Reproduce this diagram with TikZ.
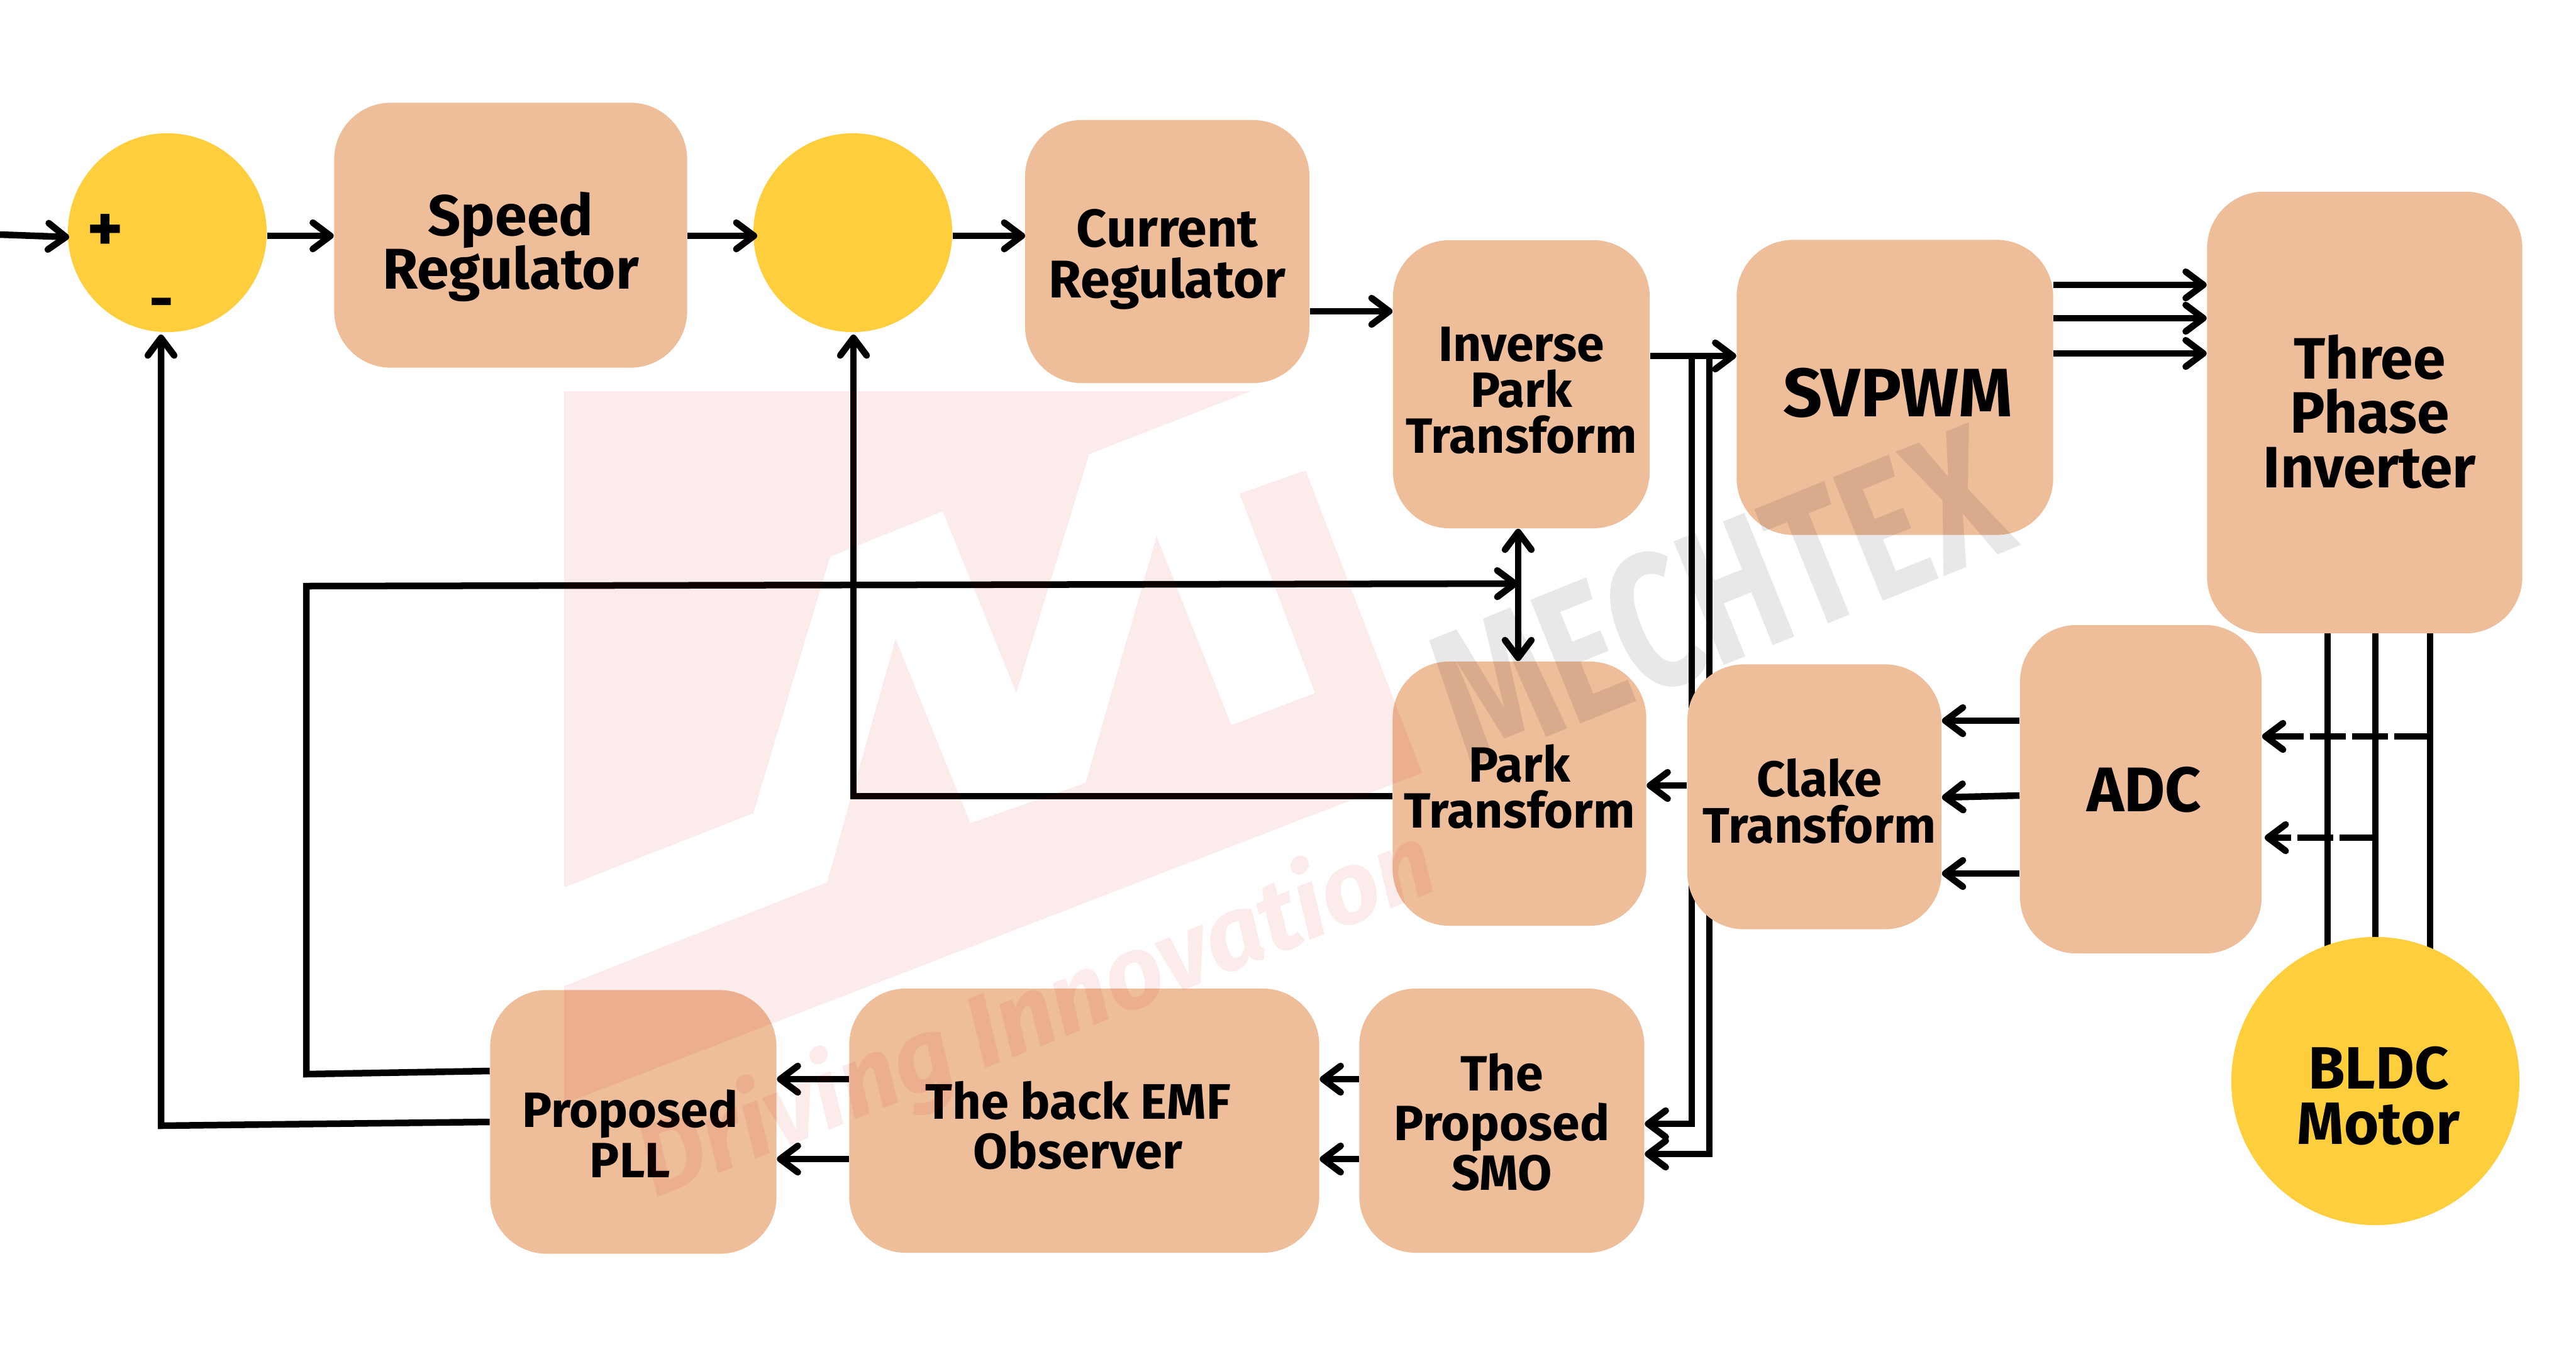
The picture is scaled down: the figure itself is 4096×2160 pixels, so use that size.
\documentclass[tikz,border=0pt]{standalone}
\usepackage{fontspec}
\setmainfont{Fira Sans}
\usetikzlibrary{arrows.meta,backgrounds}
\definecolor{blockfill}{HTML}{EEBD9A}
\definecolor{sumfill}{HTML}{FFCE3C}
\definecolor{markred}{HTML}{C80505}
\lineskiplimit=-20pt
\tikzset{
	block/.style={rectangle, rounded corners=0.9cm, fill=blockfill, inner sep=0pt, align=center},
	drop/.style={text height=#1, text depth=0pt},
	sumnode/.style={circle, fill=sumfill, inner sep=0pt, minimum size=3.16cm},
	barbs/.tip={Straight Barb[length=0.28cm, width=0.42cm, round]},
	wire/.style={line width=0.105cm},
	flow/.style={wire, -barbs},
	feed/.style={flow, dash pattern=on 0.57cm off 0.1cm},
	logo/.style={fill=markred, opacity=0.08},
}

\begin{document}
\begin{tikzpicture}[x=0.01cm, y=-0.01cm]
	\useasboundingbox (0, 0) rectangle (4096, 2160);
	\node[sumnode] (sumA) at (266, 370) {};
	\node[sumnode] (sumB) at (1356, 370) {};
	\node[block, minimum width=5.61cm, minimum height=4.21cm, drop=1.71cm, font=\fontsize{26}{24.2}\selectfont\bfseries] (speed) at (812, 374) {Speed\\Regulator};
	\node[block, minimum width=4.52cm, minimum height=4.18cm, drop=1.47cm, font=\fontsize{24}{23}\selectfont\bfseries] (current) at (1856, 400) {Current\\Regulator};
	\node[block, minimum width=4.08cm, minimum height=4.58cm, drop=2.19cm, font=\fontsize{22.4}{20.8}\selectfont\bfseries] (inverse) at (2419, 611) {Inverse\\Park\\Transform};
	\node[block, minimum width=5.03cm, minimum height=4.69cm, drop=0.93cm, font=\fontsize{31}{31}\selectfont\bfseries] (svpwm) at (3013, 616) {\kern0.1cm SVPWM};
	\node[block, minimum width=5.01cm, minimum height=7.02cm, drop=2.38cm, font=\fontsize{26.4}{24.5}\selectfont\bfseries] (inverter) at (3760, 656) {\kern0.16cm Three\\\kern0.16cm Phase\\\kern0.16cm Inverter};
	\node[block, minimum width=3.84cm, minimum height=5.22cm, drop=0.7cm, font=\fontsize{28.5}{28.5}\selectfont\bfseries] (adc) at (3404, 1255) {\kern0.1cm ADC};
	\node[block, minimum width=4.04cm, minimum height=4.21cm, drop=1.46cm, font=\fontsize{22.6}{21}\selectfont\bfseries] (clake) at (2885, 1267) {\kern0.16cm Clake\\\kern0.16cm Transform};
	\node[block, minimum width=4.03cm, minimum height=4.2cm, drop=1.09cm, font=\fontsize{22.4}{20.8}\selectfont\bfseries] (park) at (2416, 1262) {Park\\Transform};
	\node[block, minimum width=4.53cm, minimum height=4.2cm, drop=2.21cm, font=\fontsize{22.4}{22.5}\selectfont\bfseries] (smo) at (2388, 1782) {The\\Proposed\\SMO};
	\node[block, minimum width=7.47cm, minimum height=4.2cm, drop=1.53cm, font=\fontsize{22.6}{22.5}\selectfont\bfseries] (observer) at (1724, 1782) {The back EMF\kern0.2cm\\Observer\kern0.2cm};
	\node[block, minimum width=4.55cm, minimum height=4.19cm, drop=1.76cm, font=\fontsize{22.4}{22.5}\selectfont\bfseries] (pll) at (1007, 1784) {Proposed\kern0.1cm\\PLL\kern0.1cm};
	\node[sumnode, minimum size=4.58cm, drop=2cm, font=\fontsize{27}{24.8}\selectfont\bfseries, align=center] (motor) at (3777, 1719) {\kern0.1cm BLDC\\\kern0.1cm Motor};
	\node[font=\fontsize{31}{31}\selectfont\bfseries] (plus) at (167, 371) {+};
	\node[font=\fontsize{27}{27}\selectfont\bfseries] (minus) at (257, 492) {-};
	% free ends and corners
	\coordinate (input) at (0, 373);
	\coordinate (pllcornerA) at (487, 1708);
	\coordinate (pllcornerB) at (487, 932);
	\coordinate (pllcornerC) at (256, 1790);
	\coordinate (parkcorner) at (1357, 1266);
	\draw[flow] (input) -- (110, 377);
	\draw[flow] (425, 375) -- (speed.west |- 0, 375);
	\draw[flow] (speed.east |- 0, 375) -- (1204, 375);
	\draw[flow] (sumB.east |- 0, 375) -- (1630, 375);
	\draw[flow] (current.east |- 0, 495) -- (inverse.west |- 0, 495);
	\draw[flow] (inverse.east |- 0, 566) -- (svpwm.west |- 0, 566);
	\draw[flow] (svpwm.east |- 0, 453) -- (inverter.west |- 0, 453);
	\draw[flow] (svpwm.east |- 0, 506) -- (inverter.west |- 0, 506);
	\draw[flow] (svpwm.east |- 0, 562) -- (inverter.west |- 0, 562);
	\draw[wire, barbs-barbs] (2414, 0 |- inverse.south) -- (2414, 0 |- park.north);
	\draw[flow] (pll.west |- 0, 1703) -- (pllcornerA) -- (pllcornerB) -- (2414, 928);
	\draw[flow] (pll.west |- 0, 1784) -- (pllcornerC) -- (256, 532);
	\draw[flow] (park.west |- 0, 1266) -- (parkcorner) -- (1357, 532);
	\draw[flow] (clake.west |- 0, 1249) -- (park.east |- 0, 1249);
	\draw[flow] (adc.west |- 0, 1146) -- (clake.east |- 0, 1146);
	\draw[flow] (adc.west |- 0, 1265) -- (clake.east |- 0, 1268);
	\draw[flow] (adc.west |- 0, 1389) -- (clake.east |- 0, 1389);
	\draw[flow] (smo.west |- 0, 1716) -- (observer.east |- 0, 1716);
	\draw[flow] (smo.west |- 0, 1843) -- (observer.east |- 0, 1843);
	\draw[flow] (observer.west |- 0, 1716) -- (pll.east |- 0, 1716);
	\draw[flow] (observer.west |- 0, 1843) -- (pll.east |- 0, 1843);
	\begin{pgfonlayer}{background}
		\draw[flow] (2690, 566) -- (2690, 1787) -- (smo.east |- 0, 1787);
		\draw[flow] (2718, 566) -- (2718, 1835) -- (smo.east |- 0, 1835);
		\draw[wire] (3701, 1007) -- (3701, 1700);
		\draw[wire] (3777, 1007) -- (3777, 1700);
		\draw[wire] (3864, 1007) -- (3864, 1700);
	\end{pgfonlayer}
	\draw[feed] (3864, 1171) -- (adc.east |- 0, 1171);
	\draw[feed] (3777, 1332) -- (3601, 1332);
	% watermark
	\fill[logo] (897, 622) -- (1989, 622) -- (1732, 722) -- (1616, 1102) -- (1499, 813) -- (1320, 885) -- (1198, 1293) -- (897, 1411) -- cycle;
	\fill[logo] (2076, 748) -- (1971, 785) -- (2091, 1102) -- (1958, 1153) -- (1839, 853) -- (1726, 1245) -- (1543, 1309) -- (1424, 1016) -- (1315, 1403) -- (897, 1568) -- (897, 1755) -- (2261, 1229) -- cycle;
	\node[text=markred, text opacity=0.08, rotate=21.5, font=\fontsize{46}{46}\selectfont\bfseries\itshape] (markslogan) at (1650, 1615) {Driving Innovation};
	\node[text=black, text opacity=0.09, rotate=22, xscale=0.74, font=\fontsize{87}{87}\selectfont\bfseries] (markname) at (2734, 947) {MECHTEX};
\end{tikzpicture}
\end{document}
